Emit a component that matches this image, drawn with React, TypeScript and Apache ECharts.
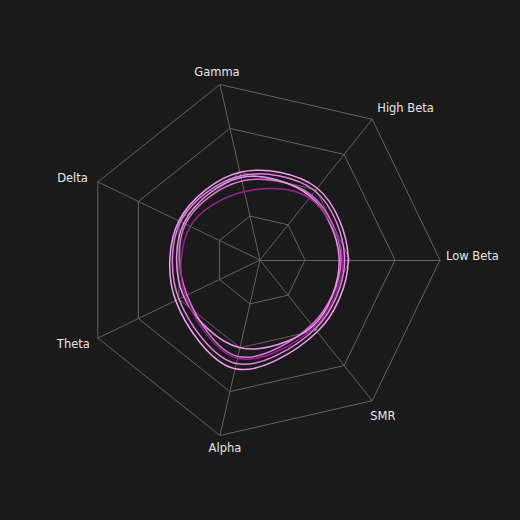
import React, { useEffect, useRef } from "react";
import * as echarts from "echarts";

const indicators = ["Low Beta", "High Beta", "Gamma", "Delta", "Theta", "Alpha", "SMR"];
const maxValue = 100;

const seriesA = [49, 51, 50, 50, 52, 62, 51];
const seriesB = [47, 49, 48, 49, 50, 59, 49];
const seriesC = [45, 46, 45, 46, 45, 55, 46];
const seriesD = [44, 45, 47, 47, 47, 50, 47];
const seriesE = [46, 44, 39, 43, 46, 56, 48];

const allSeries = [seriesA, seriesB, seriesC, seriesD, seriesE];
const colors = ["#f0a0ee", "#e482e4", "#da72da", "#ee92ee", "#9a2391"];

// label placement relative to each outer vertex (styling only)
const labelPlacement = [
  { dx: 6, dy: -4, align: "left" },
  { dx: 5, dy: -11, align: "left" },
  { dx: -3, dy: -13, align: "center" },
  { dx: -10, dy: -4, align: "right" },
  { dx: -8, dy: 6, align: "right" },
  { dx: 5, dy: 13, align: "center" },
  { dx: -2, dy: 15, align: "left" },
];

export default function App() {
  const ref = useRef<HTMLDivElement>(null);
  useEffect(() => {
    if (!ref.current) return;
    const chart = echarts.init(ref.current, null, { renderer: "svg" });
    const step = 360 / indicators.length;
    chart.setOption({
      animation: false,
      backgroundColor: "#1a1a1a",
      radar: {
        center: ["50%", "50%"],
        radius: 180,
        startAngle: 0,
        splitNumber: 4,
        shape: "polygon",
        axisName: { show: false },
        splitArea: { show: false },
        splitLine: { lineStyle: { color: "#626262", width: 1 } },
        axisLine: { lineStyle: { color: "#626262", width: 1 } },
        indicator: indicators.map((n) => ({ name: n, max: maxValue, min: 0 })),
      },
      polar: { center: ["50%", "50%"], radius: 180 },
      angleAxis: {
        type: "value",
        min: 0,
        max: 360,
        startAngle: 0,
        clockwise: false,
        show: false,
      },
      radiusAxis: { type: "value", min: 0, max: maxValue, show: false },
      series: [
        ...allSeries.map((vals, si) => ({
          type: "custom",
          coordinateSystem: "polar",
          clip: false,
          silent: true,
          data: vals.map((v, i) => [v, i * step]),
          renderItem: (params: any, api: any) => {
            if (params.dataIndex !== 0) return null;
            const pts = vals.map((v, i) => api.coord([v, i * step]));
            return {
              type: "polygon",
              shape: { points: pts, smooth: 0.34 },
              style: { fill: "none", stroke: colors[si], lineWidth: 1.5 },
            };
          },
        })),
        {
          type: "custom",
          coordinateSystem: "polar",
          clip: false,
          silent: true,
          data: indicators.map((n, i) => [maxValue, i * step, n]),
          renderItem: (params: any, api: any) => {
            const i = params.dataIndex;
            const p = api.coord([maxValue, i * step]);
            const pl = labelPlacement[i];
            return {
              type: "text",
              x: p[0] + pl.dx,
              y: p[1] + pl.dy,
              style: {
                text: indicators[i],
                fill: "#e6e6e6",
                fontSize: 11.5,
                fontFamily: "DejaVu Sans",
                align: pl.align,
                verticalAlign: "middle",
              },
            };
          },
        },
      ],
    });
    return () => chart.dispose();
  }, []);
  return (
    <div
      ref={ref}
      style={{ position: "fixed", left: 0, top: 0, width: 520, height: 520 }}
    />
  );
}
